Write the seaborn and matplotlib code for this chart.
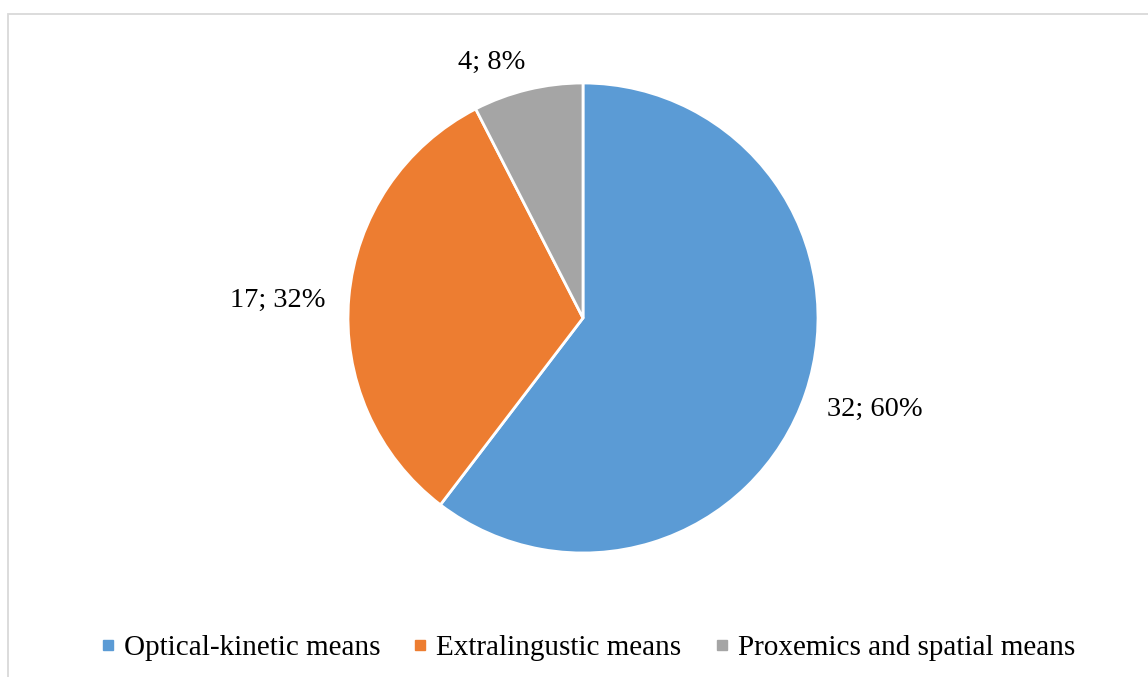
import matplotlib
matplotlib.use("Agg")
import matplotlib.pyplot as plt
import seaborn as sns
import numpy as np
from matplotlib.lines import Line2D
from matplotlib.patches import Rectangle

categories = ["Optical-kinetic means", "Extralingustic means", "Proxemics and spatial means"]
counts = [32, 17, 4]
percent_labels = ["60%", "32%", "8%"]

sns.set_theme(style="white")
plt.rcParams["font.family"] = ["Liberation Serif", "DejaVu Serif"]
plt.rcParams["text.color"] = "black"

colors = ["#5B9BD5", "#ED7D31", "#A5A5A5"]

W, H = 1148, 677
fig = plt.figure(figsize=(W / 100, H / 100), dpi=100)

# outer frame of the chart area (top and left edges visible)
frame = Rectangle((7.5 / W, -0.05), 1.2, 1 - 13.5 / H + 0.05, transform=fig.transFigure,
                  fill=False, edgecolor="#d9d9d9", linewidth=1.3)
fig.patches.append(frame)

cx, cy, R = 583, H - 318, 235
ax = fig.add_axes([(cx - R) / W, (cy - R) / H, 2 * R / W, 2 * R / H])

wedges, _ = ax.pie(counts, colors=colors, startangle=90, counterclock=False, radius=1,
                   wedgeprops=dict(edgecolor="white", linewidth=2.0))
ax.set_xlim(-1, 1)
ax.set_ylim(-1, 1)
ax.set_aspect("equal")
ax.axis("off")

# data labels placed outside each wedge
label_dist = [1.30, 1.30, 1.16]
angle_shift = [1.5, 1.5, 6.0]
for w, n, p, d, s in zip(wedges, counts, percent_labels, label_dist, angle_shift):
    mid = np.deg2rad((w.theta1 + w.theta2) / 2 + s)
    ax.text(d * np.cos(mid), d * np.sin(mid) - 0.005, f"{n}; {p}", ha="center", va="center",
            fontsize=20.5, color="black", clip_on=False)

handles = [Line2D([0], [0], marker="s", linestyle="none", markersize=7.5,
                  markerfacecolor=c, markeredgecolor=c) for c in colors]
fig.legend(handles, categories, loc="center", bbox_to_anchor=(587 / W, 1 - 648 / H), ncol=3,
           frameon=False, fontsize=21, handlelength=0.6, handletextpad=0.25,
           columnspacing=1.08, borderaxespad=0, labelcolor="black")

fig.savefig("out.png", dpi=100, facecolor="white")
